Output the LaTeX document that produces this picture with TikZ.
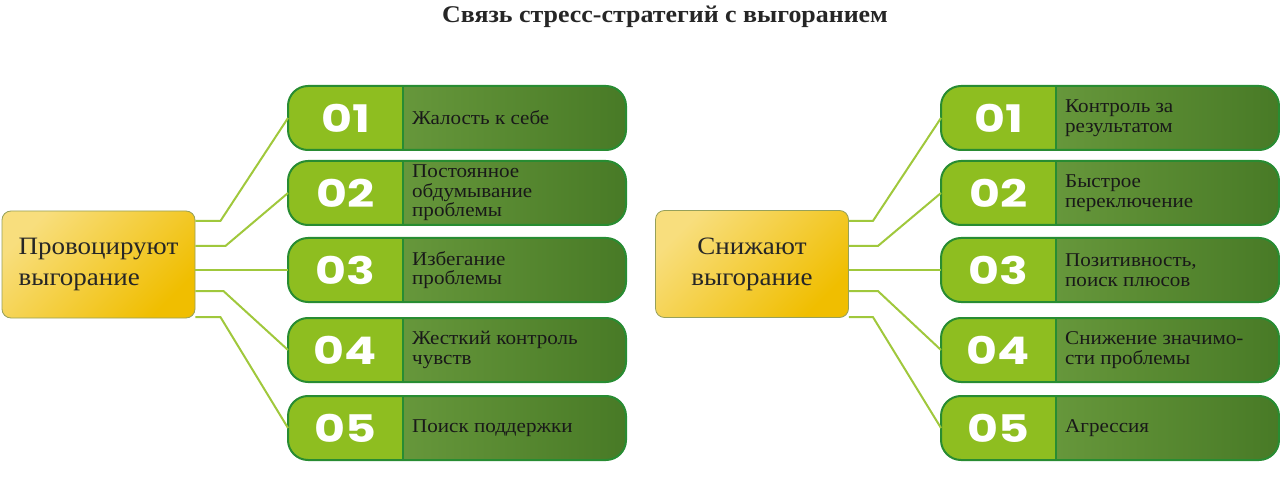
\documentclass[tikz,border=0pt]{standalone}
\usepackage{fontspec}
\setmainfont{Liberation Serif}[FakeStretch=1.08]
\newfontfamily\numfont{Poppins}[FakeStretch=1.25]
\definecolor{hubtop}{RGB}{248,222,125}
\definecolor{hubbot}{RGB}{240,190,0}
\definecolor{hubline}{RGB}{150,160,90}
\definecolor{linkcol}{RGB}{160,200,60}
\definecolor{numcol}{RGB}{142,190,32}
\definecolor{boxline}{RGB}{40,140,50}
\definecolor{txtleft}{RGB}{118,166,70}
\definecolor{txtright}{RGB}{72,122,38}
\tikzset{
	hub/.style={rectangle, rounded corners=9pt, minimum width=193pt, minimum height=107pt, draw=hubline, line width=.8pt, top color=hubtop, bottom color=hubbot, shading angle=45, font=\fontsize{25}{31}\selectfont, text=black!85},
	item/.style={rectangle, rounded corners=20pt, minimum width=338pt, minimum height=64pt, outer sep=0pt, inner sep=0pt, left color=txtleft, right color=txtright},
	numtxt/.style={font=\numfont\bfseries\fontsize{38}{38}\selectfont, text=white},
	lbl/.style={anchor=west, align=left, inner sep=0pt, font=\fontsize{19.5}{19.5}\selectfont, text=black!90},
	link/.style={draw=linkcol, line width=2pt}
}
\begin{document}
\begin{tikzpicture}[x=1pt, y=-1pt, line join=round]
	\useasboundingbox (0,0) rectangle (1280,481);
	\node[font=\bfseries\fontsize{24}{28}\selectfont, text=black!85] (title) at (665,16.5) {Связь стресс-стратегий с выгоранием};
	% left half
	\node[hub, align=left] (pl) at (98.5,264.5) {Провоцируют\\выгорание};
	\foreach \n/\y/\t in {1/118/{Жалость к себе}, 2/193/{Постоянное\\обдумывание\\проблемы}, 3/270/{Избегание\\проблемы}, 4/350/{Жесткий контроль\\чувств}, 5/428/{Поиск поддержки}}{
		\node[item] (l\n) at (457,\y) {};
		\begin{scope}
			\clip (l\n.north west) rectangle ([xshift=115pt]l\n.south west);
			\fill[numcol, rounded corners=20pt] (l\n.north west) rectangle (l\n.south east);
		\end{scope}
		\draw[boxline, line width=2pt, rounded corners=20pt] (l\n.north west) rectangle (l\n.south east);
		\draw[boxline, line width=2pt] ([xshift=115pt]l\n.north west) -- ([xshift=115pt]l\n.south west);
		\node[numtxt] (ln\n) at ([xshift=57.5pt]l\n.west) {0\n};
		\node[lbl] (lt\n) at ([xshift=124pt]l\n.west) {\t};
	}
	\foreach \n/\y/\d in {1/221/25, 2/246/30, 4/291/28, 5/317/25}
		\draw[link] (pl.east |- 0,\y) -- ++(\d,0) -- (l\n.west);
	\draw[link] (pl.east |- l3.west) -- (l3.west);
	% right half
	\node[hub, align=center] (pr) at (752,264) {Снижают\\выгорание};
	\foreach \n/\y/\t in {1/118/{Контроль за\\результатом}, 2/193/{Быстрое\\переключение}, 3/270/{Позитивность,\\поиск плюсов}, 4/350/{Снижение значимо-\\сти проблемы}, 5/428/{Агрессия}}{
		\node[item] (r\n) at (1110,\y) {};
		\begin{scope}
			\clip (r\n.north west) rectangle ([xshift=115pt]r\n.south west);
			\fill[numcol, rounded corners=20pt] (r\n.north west) rectangle (r\n.south east);
		\end{scope}
		\draw[boxline, line width=2pt, rounded corners=20pt] (r\n.north west) rectangle (r\n.south east);
		\draw[boxline, line width=2pt] ([xshift=115pt]r\n.north west) -- ([xshift=115pt]r\n.south west);
		\node[numtxt] (rn\n) at ([xshift=57.5pt]r\n.west) {0\n};
		\node[lbl] (rt\n) at ([xshift=124pt]r\n.west) {\t};
	}
	\foreach \n/\y/\d in {1/221/24, 2/246/29, 4/291/29, 5/317/24}
		\draw[link] (pr.east |- 0,\y) -- ++(\d,0) -- (r\n.west);
	\draw[link] (pr.east |- r3.west) -- (r3.west);
\end{tikzpicture}
\end{document}
